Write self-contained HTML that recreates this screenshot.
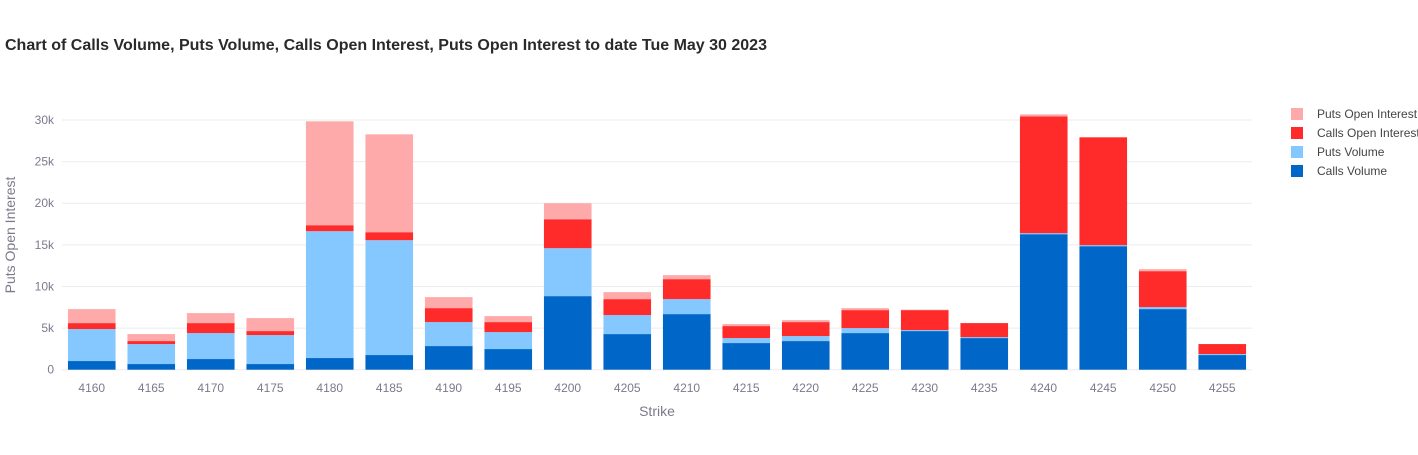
<!DOCTYPE html>
<html><head><meta charset="utf-8"><style>
body{margin:0;background:#fff;font-family:"Liberation Sans",Arial,sans-serif;}
svg text{font-family:"Liberation Sans",Arial,sans-serif;}
</style></head><body>
<svg id="chart" width="1418" height="450" xmlns="http://www.w3.org/2000/svg">
<text x="5" y="50" font-size="16" font-weight="bold" fill="#2a2a2a">Chart of Calls Volume, Puts Volume, Calls Open Interest, Puts Open Interest to date Tue May 30 2023</text>
<g id="grid"></g><g id="bars"></g><g id="axes"></g><g id="legend"></g>
</svg>
<script>
const categories=[4160,4165,4170,4175,4180,4185,4190,4195,4200,4205,4210,4215,4220,4225,4230,4235,4240,4245,4250,4255];
const callsVolume=[1040,680,1280,680,1400,1760,2840,2480,8840,4280,6680,3200,3440,4400,4640,3800,16280,14840,7280,1760];
const putsVolume=[3840,2400,3120,3480,15240,13800,2880,2040,5760,2280,1800,600,600,600,120,120,120,120,240,120];
const callsOI=[720,360,1200,480,720,960,1680,1200,3480,1920,2400,1440,1680,2160,2400,1680,14040,12960,4320,1200];
const putsOI=[1680,840,1200,1560,12480,11760,1320,720,1920,840,480,240,240,240,50,0,240,0,240,0];
const yTicks=[0,5000,10000,15000,20000,25000,30000];
const yTickLabels=["0","5k","10k","15k","20k","25k","30k"];
const seriesNames=["Calls Volume","Puts Volume","Calls Open Interest","Puts Open Interest"];
const seriesColors=["#0066c8","#84c8ff","#ff2b2b","#ffaaaa"];
const series=[callsVolume,putsVolume,callsOI,putsOI];

const NS="http://www.w3.org/2000/svg";
const X0=62,X1=1252,Y0=369.7,Y30=120;
const band=(X1-X0)/categories.length;
const xPos=i=>X0+band*(i+0.5);
const yPos=v=>Y0-(v/30000)*(Y0-Y30);
function mk(tag,attrs,parent){const e=document.createElementNS(NS,tag);for(const k in attrs)e.setAttribute(k,attrs[k]);parent.appendChild(e);return e;}
const grid=document.getElementById('grid'),bars=document.getElementById('bars'),axes=document.getElementById('axes'),legend=document.getElementById('legend');
yTicks.forEach((t,i)=>{
  const l=mk('line',{x1:X0,x2:X1,y1:yPos(t),y2:yPos(t),stroke:'#ebebf2','stroke-width':1},grid);
  
  
  const tx=mk('text',{x:54,y:yPos(t)+4,'text-anchor':'end','font-size':12,fill:'#7a7a8c'},axes);
  tx.textContent=yTickLabels[i];
  
  
});
const bw=band*0.8;
categories.forEach((c,i)=>{
  let base=0;
  series.forEach((s,k)=>{
    const v=s[i];
    if(v>0){
      const r=mk('rect',{x:xPos(i)-bw/2,y:yPos(base+v),width:bw,height:yPos(base)-yPos(base+v),fill:seriesColors[k]},bars);
      
      
    }
    base+=v;
  });
  const tx=mk('text',{x:xPos(i),y:392,'text-anchor':'middle','font-size':12,fill:'#7a7a8c'},axes);
  tx.textContent=c;
  
  
});
const xt=mk('text',{x:657,y:416,'text-anchor':'middle','font-size':14,fill:'#7a7a8c'},axes);
xt.textContent='Strike';


const yt=mk('text',{x:15,y:235,'text-anchor':'middle','font-size':14,fill:'#7a7a8c',transform:'rotate(-90 15 235)'},axes);
yt.textContent='Puts Open Interest';


[3,2,1,0].forEach((k,j)=>{
  const y=114+j*19;
  const sw=mk('rect',{x:1291,y:y-6,width:12,height:12,fill:seriesColors[k]},legend);
  
  
  const t=mk('text',{x:1317,y:y+4,'font-size':12,fill:'#444'},legend);
  t.textContent=seriesNames[k];
  
  
});
</script>
</body></html>
